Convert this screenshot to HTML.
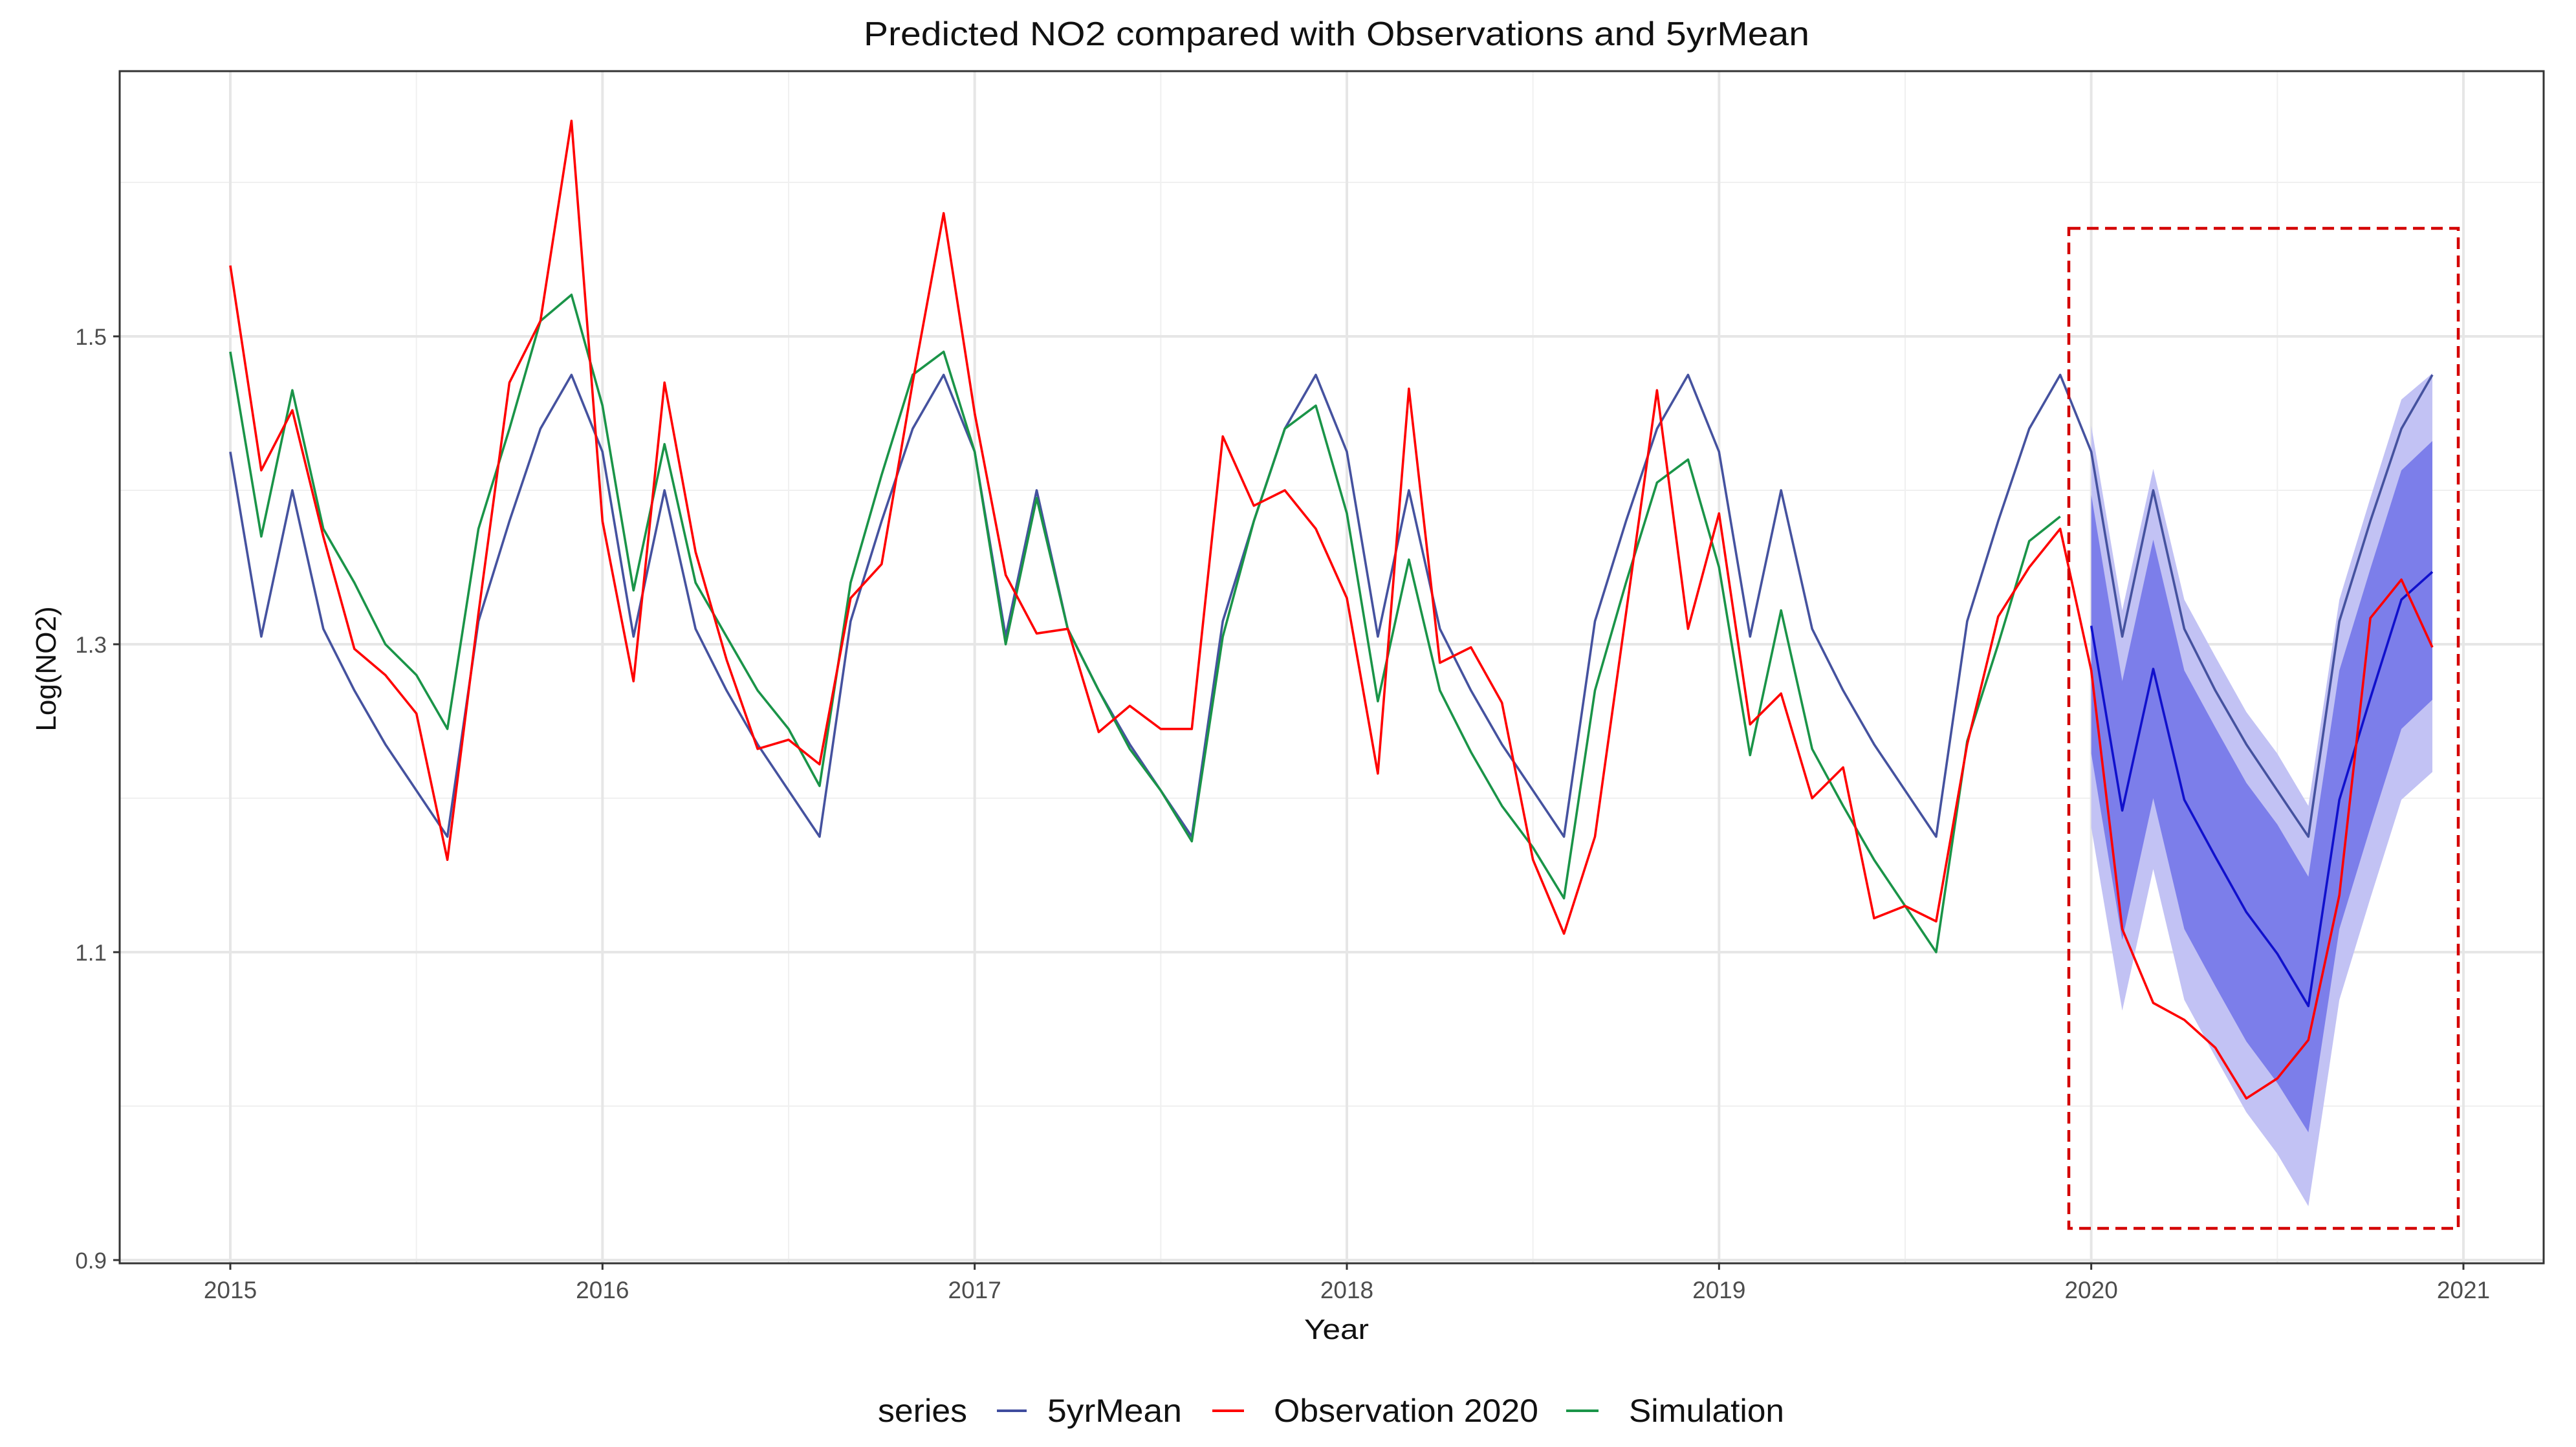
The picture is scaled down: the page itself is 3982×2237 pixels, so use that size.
<!DOCTYPE html>
<html><head><meta charset="utf-8"><style>
html,body{margin:0;padding:0;background:#fff;}
svg{display:block;font-family:"Liberation Sans",sans-serif;}
</style></head><body>
<svg id="chart" width="3982" height="2237" viewBox="0 0 3982 2237" xmlns="http://www.w3.org/2000/svg">
<rect x="0" y="0" width="3982" height="2237" fill="#fff"/>
<text x="2066" y="70" font-size="52" text-anchor="middle" fill="#111" textLength="1462" lengthAdjust="spacingAndGlyphs">Predicted NO2 compared with Observations and 5yrMean</text>
<g id="grid"></g>
<g id="bands"></g>
<g id="lines"></g>
<rect x="3198" y="353" width="602" height="1546" fill="none" stroke="#d40000" stroke-width="4.5" stroke-dasharray="18,10"/>
<rect x="185" y="110" width="3747" height="1843" fill="none" stroke="#333" stroke-width="3"/>
<g id="axes"></g>
<text x="2066" y="2070" font-size="44" text-anchor="middle" fill="#111" textLength="100" lengthAdjust="spacingAndGlyphs">Year</text>
<text transform="translate(86,1034) rotate(-90)" font-size="44" text-anchor="middle" fill="#111">Log(NO2)</text>
<g>
<text x="1357" y="2198" font-size="50" fill="#111" textLength="138" lengthAdjust="spacingAndGlyphs">series</text>
<line x1="1541" y1="2181" x2="1587" y2="2181" stroke="#3f4c9e" stroke-width="4"/>
<text x="1619" y="2198" font-size="50" fill="#111" textLength="208" lengthAdjust="spacingAndGlyphs">5yrMean</text>
<line x1="1874" y1="2181" x2="1923" y2="2181" stroke="#ff0000" stroke-width="4"/>
<text x="1969" y="2198" font-size="50" fill="#111" textLength="409" lengthAdjust="spacingAndGlyphs">Observation 2020</text>
<line x1="2421" y1="2181" x2="2471" y2="2181" stroke="#1a9448" stroke-width="4"/>
<text x="2518" y="2198" font-size="50" fill="#111" textLength="240" lengthAdjust="spacingAndGlyphs">Simulation</text>
</g>
</svg>
<script>
const pattern5yr = [1.425,1.305,1.40,1.31,1.27,1.235,1.205,1.175,1.315,1.38,1.44,1.475];
const mean5yr = [].concat(pattern5yr,pattern5yr,pattern5yr,pattern5yr,pattern5yr,pattern5yr);
const observation = [
1.546,1.413,1.452,1.37,1.297,1.28,1.255,1.16,1.32,1.47,1.51,1.64,
1.38,1.276,1.47,1.36,1.29,1.232,1.238,1.222,1.33,1.352,1.47,1.58,
1.45,1.345,1.307,1.31,1.243,1.26,1.245,1.245,1.435,1.39,1.40,1.375,
1.33,1.216,1.466,1.288,1.298,1.262,1.16,1.112,1.175,1.32,1.465,1.31,
1.385,1.248,1.268,1.2,1.22,1.122,1.13,1.12,1.235,1.318,1.35,1.375,
1.283,1.115,1.067,1.056,1.038,1.005,1.018,1.043,1.137,1.317,1.342,1.298];
const simulation = [
1.49,1.37,1.465,1.375,1.34,1.30,1.28,1.245,1.375,1.44,1.51,1.527,
1.455,1.335,1.43,1.34,1.305,1.27,1.245,1.208,1.34,1.41,1.475,1.49,
1.425,1.30,1.395,1.31,1.27,1.232,1.205,1.172,1.305,1.38,1.44,1.455,
1.385,1.263,1.355,1.27,1.23,1.195,1.168,1.135,1.27,1.34,1.405,1.42,
1.35,1.228,1.322,1.232,1.195,1.16,1.13,1.10,1.237,1.30,1.367,1.383];
const prediction = [1.312,1.192,1.284,1.199,1.162,1.126,1.099,1.065,1.199,1.265,1.329,1.347];
const lo80 = [1.229,1.108,1.20,1.115,1.078,1.042,1.015,0.983,1.115,1.181,1.245,1.264];
const hi80 = [1.397,1.276,1.368,1.283,1.246,1.210,1.183,1.149,1.283,1.349,1.413,1.432];
const lo95 = [1.181,1.062,1.154,1.069,1.032,0.996,0.969,0.935,1.069,1.135,1.199,1.217];
const hi95 = [1.442,1.322,1.414,1.329,1.292,1.256,1.229,1.195,1.329,1.395,1.459,1.476];
const yTicks = [0.9,1.1,1.3,1.5];
const yMinor = [1.0,1.2,1.4,1.6];
const xTicks = [2015,2016,2017,2018,2019,2020,2021];
const xMinor = [2015.5,2016.5,2017.5,2018.5,2019.5,2020.5];

const NS="http://www.w3.org/2000/svg";
function X(t){return 356+(t-2015)*575.33;}
function Y(v){return 520+(1.5-v)*2380;}
function mk(tag,attrs,parent){const e=document.createElementNS(NS,tag);for(const k in attrs)e.setAttribute(k,attrs[k]);parent.appendChild(e);return e;}
const grid=document.getElementById('grid'), axes=document.getElementById('axes');
const L=185,R=3932,T=110,B=1953;
yMinor.forEach(v=>{const e=mk('line',{x1:L,x2:R,y1:Y(v),y2:Y(v),stroke:'#f0f0f0','stroke-width':2},grid);

});
xMinor.forEach(t=>{const e=mk('line',{x1:X(t),x2:X(t),y1:T,y2:B,stroke:'#f0f0f0','stroke-width':2},grid);

});
yTicks.forEach(v=>{const e=mk('line',{x1:L,x2:R,y1:Y(v),y2:Y(v),stroke:'#e6e6e6','stroke-width':4},grid);


const tk=mk('line',{x1:L-10,x2:L,y1:Y(v),y2:Y(v),stroke:'#333','stroke-width':3},axes);


const tx=mk('text',{x:L-20,y:Y(v)+13,'font-size':35,'text-anchor':'end',fill:'#4d4d4d'},axes);
tx.textContent=v.toFixed(1);

});
xTicks.forEach(t=>{const e=mk('line',{x1:X(t),x2:X(t),y1:T,y2:B,stroke:'#e6e6e6','stroke-width':4},grid);


const tk=mk('line',{x1:X(t),x2:X(t),y1:B,y2:B+10,stroke:'#333','stroke-width':3},axes);


const tx=mk('text',{x:X(t),y:B+54,'font-size':37,'text-anchor':'middle',fill:'#4d4d4d'},axes);
tx.textContent=String(t);

});

const bands=document.getElementById('bands'), lines=document.getElementById('lines');
function bandPath(lo,hi){let p=[];for(let i=0;i<hi.length;i++)p.push(X(2020+i/12).toFixed(1)+','+Y(hi[i]).toFixed(1));
for(let i=lo.length-1;i>=0;i--)p.push(X(2020+i/12).toFixed(1)+','+Y(lo[i]).toFixed(1));return p.join(' ');}
const b95=mk('polygon',{points:bandPath(lo95,hi95),fill:'#c2c2f4'},bands);


const b80=mk('polygon',{points:bandPath(lo80,hi80),fill:'#7c7eea'},bands);


function line(vals,start,color,name){const pts=vals.map((v,i)=>X(start+i/12).toFixed(1)+','+Y(v).toFixed(1)).join(' ');
const e=mk('polyline',{points:pts,fill:'none',stroke:color,'stroke-width':3.6,'stroke-linejoin':'round'},lines);

}
line(mean5yr,2015,'#45529f','line-5yrmean');
line(simulation,2015,'#1a9448','line-simulation');
line(prediction,2020,'#1010cc','line-prediction-2020');
line(observation,2015,'#ff0000','line-observation');
</script>
</body></html>
